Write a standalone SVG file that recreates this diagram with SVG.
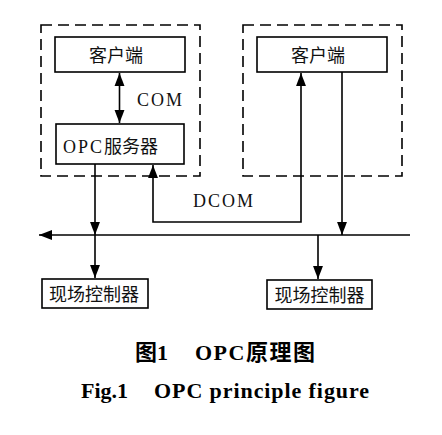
<svg xmlns="http://www.w3.org/2000/svg" width="442" height="435" viewBox="0 0 442 435">
<style>
.box{fill:#fff;stroke:#000;stroke-width:1.6}
.dash{fill:none;stroke:#000;stroke-width:1.6;stroke-dasharray:11 6}
.ln{fill:none;stroke:#000;stroke-width:1.6}
.t{font-family:"Liberation Serif","Noto Sans CJK SC",serif;font-size:18px;fill:#111}
.lat{letter-spacing:2px}
.cap{font-family:"Liberation Serif","Noto Sans CJK SC",serif;font-size:22px;font-weight:bold;fill:#000}
</style>
<defs>
<marker id="ah" viewBox="0 0 10 10" refX="10" refY="5" markerWidth="13" markerHeight="13" markerUnits="userSpaceOnUse" orient="auto-start-reverse">
<path d="M0,1.2 L10,5 L0,8.8 z" fill="#000"/>
</marker>
</defs>
<rect width="442" height="435" fill="#fff"/>
<g id="group-left"><rect class="dash" x="41" y="25" width="159" height="151"/></g>
<g id="group-right"><rect class="dash" x="243" y="25" width="159" height="151"/></g>
<g id="client-left"><rect class="box" x="55" y="37" width="130" height="35"/><text class="t" x="116" y="62" text-anchor="middle">客户端</text></g>
<g id="opc-server"><rect class="box" x="56" y="124" width="128" height="40"/><text class="t" x="63" y="153"><tspan class="lat">OPC</tspan>服务器</text></g>
<g id="client-right"><rect class="box" x="257" y="37" width="130" height="35"/><text class="t" x="318" y="62" text-anchor="middle">客户端</text></g>
<g id="controller-left"><rect class="box" x="42" y="279" width="106" height="29"/><text class="t" x="94" y="301" text-anchor="middle">现场控制器</text></g>
<g id="controller-right"><rect class="box" x="267" y="280" width="105" height="29"/><text class="t" x="319.500" y="302" text-anchor="middle">现场控制器</text></g>
<g id="connectors">
<line class="ln" x1="119.500" y1="73" x2="119.500" y2="123" marker-start="url(#ah)" marker-end="url(#ah)"/>
<text class="t lat" x="137" y="106">COM</text>
<line class="ln" x1="95" y1="164" x2="95" y2="235" marker-end="url(#ah)"/>
<polyline class="ln" points="153,165 153,222 301,222 301,73" marker-start="url(#ah)" marker-end="url(#ah)"/>
<text class="t lat" x="193" y="207">DCOM</text>
<line class="ln" x1="342" y1="72" x2="342" y2="235" marker-end="url(#ah)"/>
<line class="ln" x1="410" y1="235" x2="39" y2="235" marker-end="url(#ah)"/>
<line class="ln" x1="95" y1="235" x2="95" y2="278" marker-end="url(#ah)"/>
<line class="ln" x1="318" y1="235" x2="318" y2="279" marker-end="url(#ah)"/>
</g>
<text class="cap" x="135" y="360">图1</text>
<text class="cap" x="195" y="360" textLength="120" lengthAdjust="spacing">OPC原理图</text>
<text class="cap" x="81" y="398">Fig.1</text>
<text class="cap" x="154" y="398" textLength="215" lengthAdjust="spacing">OPC principle figure</text>
</svg>
